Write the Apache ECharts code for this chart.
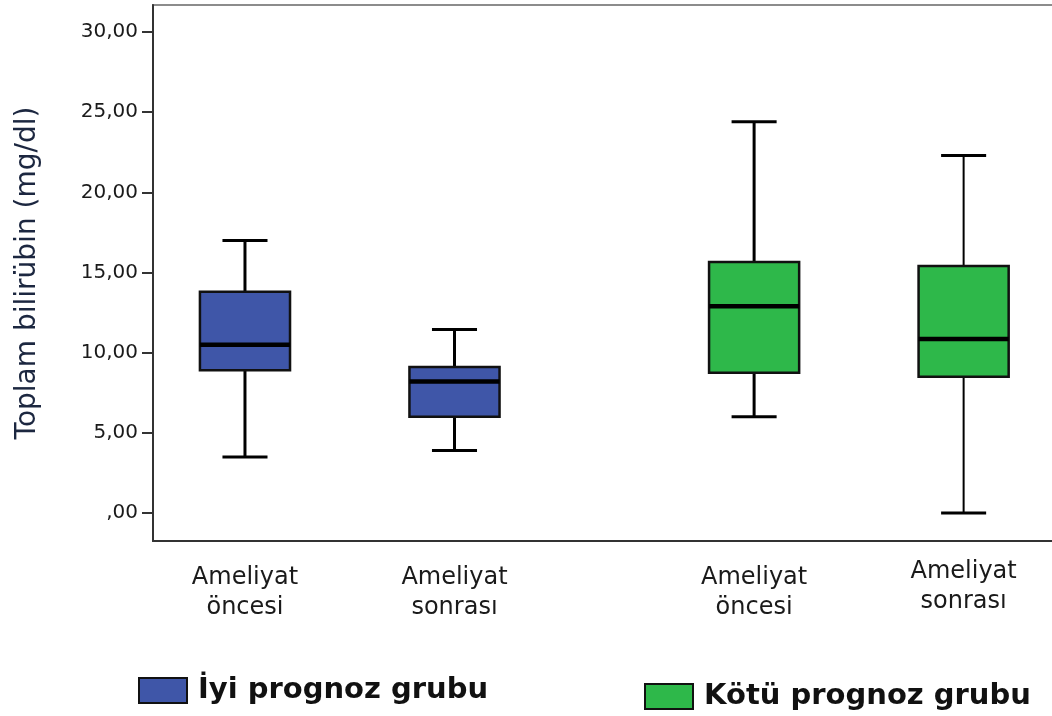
<!DOCTYPE html>
<html>
<head>
<meta charset="utf-8">
<script src="https://cdn.jsdelivr.net/npm/echarts@6/dist/echarts.min.js"></script>
<style>
  html, body { margin: 0; padding: 0; background: #fff; }
  #chart { width: 1052px; height: 716px; }
</style>
</head>
<body>
<div id="chart"></div>
<script>
// Time points shown under each box (same pair for both groups)
const categories = ['Ameliyat öncesi', 'Ameliyat sonrası'];
// Prognosis groups (legend)
const groups = ['İyi prognoz grubu', 'Kötü prognoz grubu'];
// Box statistics per time point: [min, Q1, median, Q3, max]
const iyiStats = [
  [3.5, 8.9, 10.5, 13.8, 17.0],
  [3.9, 6.0, 8.2, 9.1, 11.45]
];
const kotuStats = [
  [6.0, 8.75, 12.9, 15.65, 24.4],
  [0.0, 8.5, 10.85, 15.4, 22.3]
];
// Y tick values
const yTicks = [0, 5, 10, 15, 20, 25, 30];

const groupColors = ['#3f56a8', '#2eb84a'];
const GROUP_GAP = 0.43;   // extra spacing between the two groups, in slot units
const BOX_W = 0.43;       // box width, in slot units

// slot position on the x scale: two slots per group plus a gap between groups
function slotX(g, i) { return i + g * (2 + GROUP_GAP); }
const slotPositions = [];
const slotNames = [];
[iyiStats, kotuStats].forEach((stats, g) => {
  stats.forEach((_, i) => { slotPositions.push(slotX(g, i)); slotNames.push(categories[i]); });
});

function slotLabel(v) {
  const k = slotPositions.findIndex(p => Math.abs(p - v) < 1e-6);
  if (k < 0) return '';
  const lines = slotNames[k].split(' ');
  // the last label sits slightly higher than the others
  const style = k === slotPositions.length - 1 ? 'hi' : 'lo';
  return lines.map(t => '{' + style + '|' + t + '}').join('\n');
}

function toData(stats, g) {
  return stats.map((s, i) => [slotX(g, i)].concat(s));
}

function renderBox(params, api) {
  const x = api.value(0);
  const lo = api.coord([x, api.value(1)]);
  const q1 = api.coord([x, api.value(2)]);
  const md = api.coord([x, api.value(3)]);
  const q3 = api.coord([x, api.value(4)]);
  const hi = api.coord([x, api.value(5)]);
  const bw = api.size([BOX_W, 0])[0];
  const cw = bw / 2;
  const cx = lo[0];
  const lw = (params.seriesIndex === 1 && params.dataIndex === 1) ? 2 : 3;
  const ln = (x1, y1, x2, y2, w) => ({
    type: 'line', shape: { x1, y1, x2, y2 }, style: { stroke: '#000', lineWidth: w }
  });
  return {
    type: 'group',
    children: [
      ln(cx, hi[1], cx, q3[1], lw),
      ln(cx, q1[1], cx, lo[1], lw),
      ln(cx - cw / 2, hi[1], cx + cw / 2, hi[1], 3),
      ln(cx - cw / 2, lo[1], cx + cw / 2, lo[1], 3),
      {
        type: 'rect',
        shape: { x: cx - bw / 2, y: q3[1], width: bw, height: q1[1] - q3[1] },
        style: { fill: api.visual('color'), stroke: '#111', lineWidth: 2.5 }
      },
      ln(cx - bw / 2, md[1], cx + bw / 2, md[1], 4.5)
    ]
  };
}

const chart = echarts.init(document.getElementById('chart'));
const baseFont = 'DejaVu Sans';

const legendCommon = {
  orient: 'horizontal',
  icon: 'rect',
  padding: 0,
  itemWidth: 48,
  itemHeight: 25,
  itemStyle: { borderColor: '#111', borderWidth: 2 },
  textStyle: {
    fontFamily: baseFont, fontWeight: 'bold', fontSize: 29, color: '#111',
    padding: [0, 0, 0, 6]
  }
};

const labelText = { fontFamily: baseFont, fontSize: 24, color: '#1a1a1a' };

chart.setOption({
  animation: false,
  backgroundColor: '#fff',
  grid: {
    left: 153, top: 5, width: 907, height: 536,
    outerBoundsMode: 'none',
    containLabel: false,
    show: true, borderColor: '#8c8c8c', borderWidth: 2
  },
  legend: [
    Object.assign({}, legendCommon, { data: [groups[0]], left: 138, top: 676 }),
    Object.assign({}, legendCommon, { data: [groups[1]], left: 644, top: 682 })
  ],
  xAxis: {
    type: 'value',
    min: -0.439,
    max: 3.89,
    splitLine: { show: false },
    axisLine: { show: true, onZero: false, lineStyle: { color: '#333', width: 2 } },
    axisTick: { show: false },
    axisLabel: {
      customValues: slotPositions,
      formatter: v => slotLabel(v),
      margin: 22,
      fontFamily: baseFont,
      fontSize: 24,
      lineHeight: 30,
      color: '#1a1a1a',
      rich: {
        lo: Object.assign({ lineHeight: 30 }, labelText),
        hi: Object.assign({ lineHeight: 30, padding: [0, 0, 12, 0] }, labelText)
      }
    }
  },
  yAxis: {
    type: 'value',
    min: -1.746,
    max: 31.684,
    name: 'Toplam bilirübin (mg/dl)',
    nameLocation: 'middle',
    nameGap: 111,
    nameTextStyle: { fontFamily: baseFont, fontSize: 28, color: '#1c2740' },
    splitLine: { show: false },
    axisLine: { show: true, onZero: false, lineStyle: { color: '#333', width: 2 } },
    axisTick: {
      show: true, customValues: yTicks, length: 11,
      lineStyle: { color: '#333', width: 2 }
    },
    axisLabel: {
      customValues: yTicks,
      formatter: v => {
        const s = Number(v).toFixed(2).replace('.', ',');
        return s.startsWith('0,') ? s.slice(1) : s;
      },
      margin: 15,
      fontFamily: baseFont,
      fontSize: 20,
      color: '#1a1a1a'
    }
  },
  series: [
    {
      name: groups[0], type: 'custom', renderItem: renderBox,
      itemStyle: { color: groupColors[0] },
      encode: { x: 0, y: [1, 2, 3, 4, 5] },
      data: toData(iyiStats, 0)
    },
    {
      name: groups[1], type: 'custom', renderItem: renderBox,
      itemStyle: { color: groupColors[1] },
      encode: { x: 0, y: [1, 2, 3, 4, 5] },
      data: toData(kotuStats, 1)
    }
  ]
});
</script>
</body>
</html>
